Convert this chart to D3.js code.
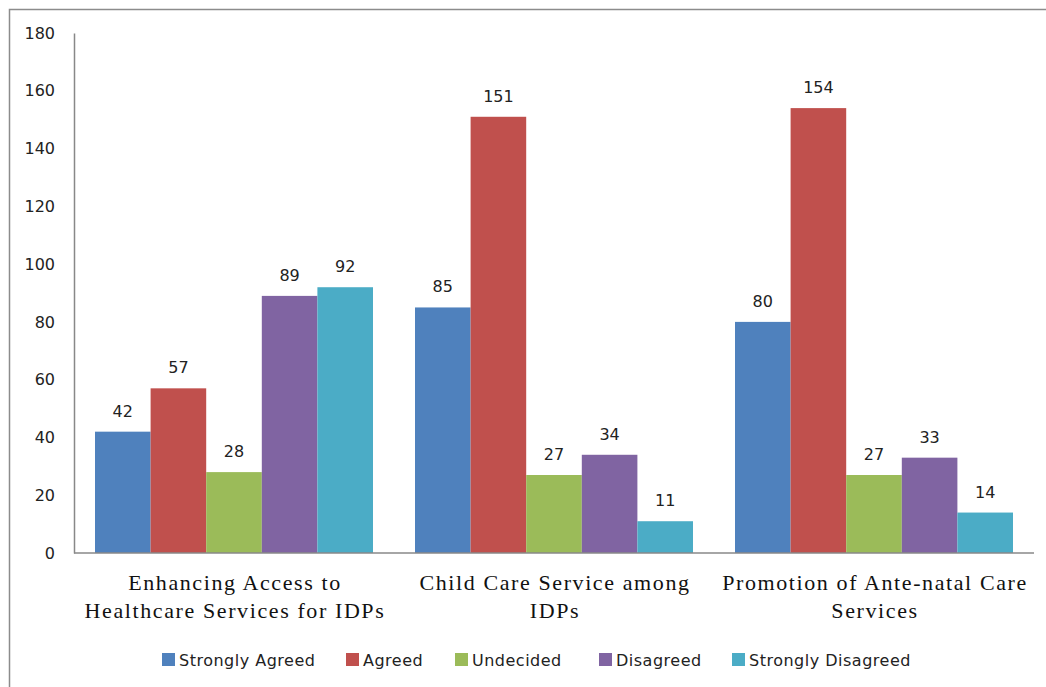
<!DOCTYPE html>
<html><head><meta charset="utf-8">
<script src="https://cdn.jsdelivr.net/npm/d3@7"></script>
<style>body{margin:0;background:#fff}svg{display:block}</style>
</head><body>
<script>
const categories = [["Enhancing Access to","Healthcare Services for IDPs"],["Child Care Service among","IDPs"],["Promotion of Ante-natal Care","Services"]];
const seriesNames = ["Strongly Agreed","Agreed","Undecided","Disagreed","Strongly Disagreed"];
const colors = ["#4f81bd","#c0504d","#9bbb59","#8064a2","#4bacc6"];
const stronglyAgreed = [42,85,80];
const agreed = [57,151,154];
const undecided = [28,27,27];
const disagreed = [89,34,33];
const stronglyDisagreed = [92,11,14];
const yTicks = [0,20,40,60,80,100,120,140,160,180];
const values = [stronglyAgreed, agreed, undecided, disagreed, stronglyDisagreed];

(function(){
const W=1046,H=687;
const svg=d3.select("body").append("svg").attr("width",W).attr("height",H);
svg.append("rect").attr("x",9.5).attr("y",9.5).attr("width",1100).attr("height",800).attr("fill","none").attr("stroke","#8c8c8c").attr("stroke-width",1.5);

const pL=74,pR=1034,pT=33,pB=553;
const x0=d3.scaleBand().domain(d3.range(3)).range([pL,pR]).paddingInner(42/320).paddingOuter(21/320);
const x1=d3.scaleBand().domain(d3.range(5)).range([0,x0.bandwidth()]);
const y=d3.scaleLinear().domain([0,180]).range([pB,pT]);

const g=svg.append("g");
values.forEach((vals,si)=>{
  g.selectAll(null).data(vals).enter().append("rect")
   .attr("x",(d,i)=>x0(i)+x1(si)).attr("y",d=>y(d))
   .attr("width",x1.bandwidth()).attr("height",d=>y(0)-y(d))
   .attr("fill",colors[si]);
  g.selectAll(null).data(vals).enter().append("text")
   .attr("x",(d,i)=>x0(i)+x1(si)+x1.bandwidth()/2).attr("y",d=>y(d)-15)
   .attr("text-anchor","middle").attr("font-family","DejaVu Sans").attr("font-size",16).attr("fill","#222")
   .text(d=>d);
});

const ya=svg.append("g").attr("transform",`translate(${pL},0)`).call(d3.axisLeft(y).tickValues(yTicks).tickSize(0).tickPadding(19));
ya.select(".domain").attr("stroke","#888").attr("stroke-width",1.5);
ya.selectAll("text").attr("font-family","DejaVu Sans").attr("font-size",16).attr("fill","#222");

svg.append("line").attr("x1",pL).attr("x2",pR).attr("y1",pB).attr("y2",pB).attr("stroke","#888").attr("stroke-width",1.5);

categories.forEach((lines,i)=>{
  const t=svg.append("text").attr("text-anchor","middle").attr("font-family","Liberation Serif").attr("font-size",22).attr("letter-spacing",1.6).attr("fill","#111");
  lines.forEach((l,j)=>t.append("tspan").attr("x",x0(i)+x0.bandwidth()/2+1).attr("y",590+j*28).text(l));
});

const legX=[162,346,455,599,732];
seriesNames.forEach((n,i)=>{
  svg.append("rect").attr("x",legX[i]).attr("y",653).attr("width",13).attr("height",13).attr("fill",colors[i]);
  svg.append("text").attr("x",legX[i]+17).attr("y",666).attr("font-family","DejaVu Sans").attr("font-size",16).attr("letter-spacing",0.5).attr("fill","#222").text(n);
});
})();
</script>
</body></html>
